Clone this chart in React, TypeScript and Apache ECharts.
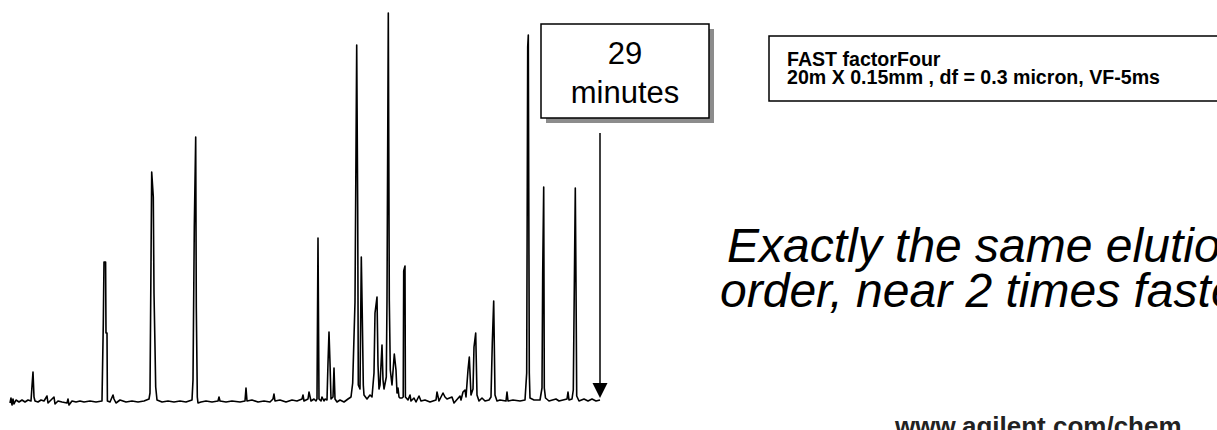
import React, { useEffect, useRef } from "react";
import * as echarts from "echarts";

// Chromatogram trace: [retention time (min), abundance (% of tallest peak scale)]
const trace: [number, number][] = [
  [0.0, -0.5], [0.05, 0.75], [0.1, -1.0], [0.15, 0.5], [0.2, -0.75], [0.3, 0.25], [0.45, -0.25], [0.6, 0.25], [0.75, -0.25], [0.9, 0.25], [1.05, 0],
  [1.1, 3.75], [1.15, 7.25], [1.2, 1.0], [1.25, 0],
  [1.4, -0.25], [1.55, 0.25], [1.7, 0], [1.85, 1.25], [1.9, -0.5], [2.05, 0.25], [2.2, 1.0], [2.25, -0.75], [2.4, 0], [2.6, -0.25], [2.85, -0.5], [2.9, 0.5], [2.95, -1.0], [3.1, 0], [3.3, -0.25], [3.5, 0], [3.7, -0.25], [4.0, 0], [4.3, -0.25], [4.6, 0],
  [4.665, 19.5], [4.7, 34.75], [4.78, 34.75], [4.8, 17], [4.85, 17], [4.87, 0],
  [5.0, -0.25], [5.15, 1.5], [5.2, 0.5], [5.3, -0.5], [5.5, 0.25], [5.8, -0.25], [6.1, 0], [6.4, -0.25], [6.7, 0], [6.95, 0.5],
  [7.0, 2.0], [7.085, 57.25], [7.165, 51], [7.2, 27], [7.25, 13.5], [7.285, 3.5], [7.35, 0.25],
  [7.6, -0.25], [7.9, 0], [8.2, -0.25], [8.5, 0], [8.8, -0.25], [9.1, 0.25],
  [9.15, 5.25], [9.215, 43.5], [9.285, 66], [9.315, 23.5], [9.365, 1.0], [9.4, -0.5],
  [9.55, -0.25], [9.8, 0], [10.1, -0.25], [10.4, 0], [10.45, 1.0], [10.5, 0], [10.8, -0.25], [11.1, 0], [11.5, -0.25], [11.75, 0], [11.8, 3.25], [11.85, 0], [12.1, 0.25], [12.4, -0.25], [12.7, 0], [13.0, -0.25], [13.15, 0.5], [13.2, 1.75], [13.25, 0], [13.5, 0.25], [13.8, -0.25], [14.1, 0.25], [14.35, 0], [14.6, 0.5], [14.65, 1.5], [14.7, 0], [14.9, 0.5], [14.95, 2.25], [15.05, 0], [15.2, 0.5], [15.3, 0],
  [15.35, 0.5], [15.4, 40.75], [15.45, 0.5], [15.55, 0], [15.6, 1.0], [15.7, 0], [15.75, 0.5], [15.85, 0.25],
  [15.9, 9.5], [15.95, 17.25], [16.0, 9.5], [16.05, 0.5],
  [16.15, 1], [16.2, 8.25], [16.25, 0.5], [16.35, -0.25], [16.5, 0.25], [16.7, -0.25], [16.9, 0.5], [17.05, 1.0],
  [17.135, 4.5], [17.25, 24.75], [17.335, 89], [17.385, 47.75], [17.415, 4], [17.5, 3], [17.565, 36], [17.615, 21], [17.665, 4], [17.7, 1.5], [17.85, 0.5], [18.0, 1.5], [18.1, 1.0],
  [18.2, 7], [18.25, 22], [18.35, 26], [18.4, 9], [18.45, 3], [18.5, 4],
  [18.6, 14], [18.65, 5.25], [18.7, 3], [18.815, 6],
  [18.85, 25.25], [18.915, 97], [18.965, 25.25], [19.015, 7.75], [19.1, 4], [19.215, 11.75], [19.3, 7.75], [19.35, 2], [19.4, 3.25], [19.45, 1], [19.5, 0.75], [19.6, 0.75],
  [19.66, 1], [19.685, 32.5], [19.75, 33.75], [19.77, 1],
  [19.9, 0.25], [20.0, 1.5], [20.05, 0], [20.2, 0.75], [20.3, -0.25], [20.45, 1.25], [20.55, 0], [20.75, 0.25], [21.0, -0.25], [21.3, 0.25], [21.35, 2.25], [21.45, 0], [21.65, 2], [21.75, 1], [21.85, 0.5], [22.1, 1.0], [22.2, -0.5], [22.5, 1.25], [22.55, 0.25], [22.65, 2.25], [22.75, 2.75], [22.8, 1],
  [22.9, 7.75], [22.965, 11], [23.05, 1.5],
  [23.15, 3], [23.2, 13.5], [23.285, 17], [23.35, 1.5], [23.45, 0], [23.6, 0.75], [23.75, 0], [23.95, 0.25], [24.05, 1.0],
  [24.115, 14.5], [24.185, 25], [24.25, 1.5], [24.35, 0], [24.5, 0.25], [24.8, 0], [24.85, 2.25], [24.9, 0], [25.15, 0.25], [25.5, 0], [25.75, 0.25],
  [25.835, 7], [25.885, 88.5], [25.915, 91.5], [25.965, 7], [26.0, 0.75], [26.2, 0.25], [26.5, 0.25],
  [26.6, 3.25], [26.635, 32], [26.685, 53.5], [26.715, 3.25], [26.775, 0.75], [26.95, 0], [27.3, 0.5], [27.45, 0], [27.85, 0.5], [27.9, 2.25], [27.95, 0.25], [28.1, 0.5],
  [28.165, 2.75], [28.2, 20.75], [28.265, 53.25], [28.3, 29.5], [28.335, 1.25], [28.45, 0], [28.7, 0.5], [28.9, 0], [29.1, 0.5], [29.3, 0], [29.5, 0.25],
];

const timeRange = [0, 29.5];
const abundanceRange = [-5, 97];
const runEndMinute = 29.5;
const arrowFrom = 67;
const arrowTo = 2.6;

const runTimeLabel = ["29", "minutes"];
const columnLabel = ["FAST factorFour", "20m X 0.15mm , df = 0.3 micron, VF-5ms"];
const claimLabel = ["Exactly the same elution", "order, near 2 times faster"];
const urlLabel = "www.agilent.com/chem";

const FONT = "'Liberation Sans', Arial, Helvetica, sans-serif";

export default function App() {
  const ref = useRef<HTMLDivElement>(null);

  useEffect(() => {
    document.body.style.margin = "0";
    if (!ref.current) return;
    const chart = echarts.init(ref.current, null, { renderer: "svg" });
    chart.setOption({
      animation: false,
      backgroundColor: "#ffffff",
      grid: { left: 10, width: 590, top: 13, height: 408 },
      xAxis: {
        type: "value",
        min: timeRange[0],
        max: timeRange[1],
        show: false,
      },
      yAxis: {
        type: "value",
        min: abundanceRange[0],
        max: abundanceRange[1],
        show: false,
      },
      series: [
        {
          type: "line",
          data: trace,
          showSymbol: false,
          symbol: "none",
          silent: true,
          clip: false,
          lineStyle: { color: "#000", width: 1.6, join: "round" },
          markLine: {
            silent: true,
            animation: false,
            symbol: ["none", "triangle"],
            symbolSize: [15, 15],
            label: { show: false },
            lineStyle: { color: "#000", width: 1.5, type: "solid" },
            itemStyle: { color: "#000" },
            data: [
              [
                { coord: [runEndMinute, arrowFrom] },
                { coord: [runEndMinute, arrowTo] },
              ],
            ],
          },
        },
      ],
      graphic: [
        { type: "rect", shape: { x: 546, y: 29, width: 168, height: 94 }, style: { fill: "#8c8c8c" } },
        { type: "rect", shape: { x: 541, y: 24, width: 168, height: 94 }, style: { fill: "#fff", stroke: "#000", lineWidth: 1.5 } },
        { type: "text", x: 625, y: 53, style: { text: runTimeLabel[0], font: `31px ${FONT}`, fill: "#000", align: "center", verticalAlign: "middle" } },
        { type: "text", x: 625, y: 92, style: { text: runTimeLabel[1], font: `31px ${FONT}`, fill: "#000", align: "center", verticalAlign: "middle" } },
        { type: "rect", shape: { x: 769, y: 36, width: 450, height: 65 }, style: { fill: "#fff", stroke: "#000", lineWidth: 1.5 } },
        { type: "text", x: 787, y: 58.5, style: { text: columnLabel[0], font: `bold 19.6px ${FONT}`, fill: "#000", align: "left", verticalAlign: "middle" } },
        { type: "text", x: 787, y: 77, style: { text: columnLabel[1], font: `bold 19.6px ${FONT}`, fill: "#000", align: "left", verticalAlign: "middle" } },
        { type: "text", x: 727, y: 245, style: { text: claimLabel[0], font: `italic 48px ${FONT}`, fill: "#000", align: "left", verticalAlign: "middle" } },
        { type: "text", x: 720, y: 290, style: { text: claimLabel[1], font: `italic 48px ${FONT}`, fill: "#000", align: "left", verticalAlign: "middle" } },
        { type: "text", x: 895, y: 426, style: { text: urlLabel, font: `bold 26px ${FONT}`, fill: "#222", align: "left", verticalAlign: "middle" } },
      ],
    });
    return () => chart.dispose();
  }, []);

  return <div ref={ref} style={{ position: "absolute", left: 0, top: 0, width: 1217, height: 430 }} />;
}
